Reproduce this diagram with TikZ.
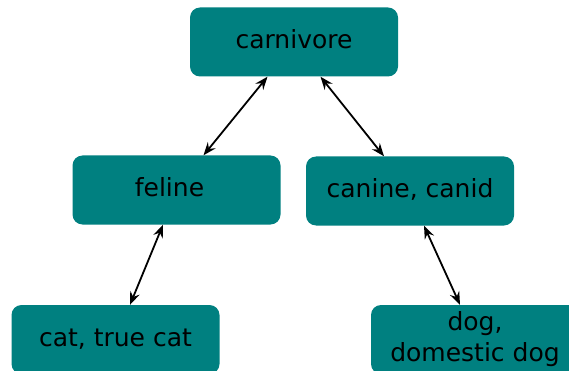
\documentclass[tikz,border=0pt]{standalone}
\usepackage{fontspec}
\setmainfont{DejaVu Sans}
\usetikzlibrary{arrows.meta}
\definecolor{boxteal}{RGB}{0,128,128}
\tikzset{
  box/.style={fill=boxteal, draw=none, rounded corners=10pt, minimum width=208pt,
    minimum height=69pt, inner sep=0pt, align=center,
    font=\fontsize{25}{31}\selectfont, text=black},
  oneline/.style={text height=18pt, text depth=5pt},
  link/.style={line width=1.8pt, {Stealth[length=13pt,width=10pt,inset=4.5pt]}-{Stealth[length=13pt,width=10pt,inset=4.5pt]}}
}
\begin{document}
\begin{tikzpicture}[x=1pt,y=-1pt]
\useasboundingbox (0,0) rectangle (569,371);
\clip (0,0) rectangle (569,371);
\node[box,oneline] (carn) at (294,42) {carnivore};
\node[box,oneline] (fel) at (176.5,190) {feline\kern14pt};
\node[box,oneline] (can) at (410,191) {canine, canid};
\node[box,oneline] (cat) at (115.5,339.5) {cat, true cat};
\node[box] (dog) at (475,339.5) {dog,\\domestic dog};
\draw[link] ([xshift=-26.5pt]carn.south) -- ([xshift=27pt]fel.north);
\draw[link] ([xshift=26.5pt]carn.south) -- ([xshift=-26pt]can.north);
\draw[link] ([xshift=-13.5pt]fel.south) -- ([xshift=14.5pt]cat.north);
\draw[link] ([xshift=14pt]can.south) -- ([xshift=-15pt]dog.north);
\end{tikzpicture}
\end{document}
